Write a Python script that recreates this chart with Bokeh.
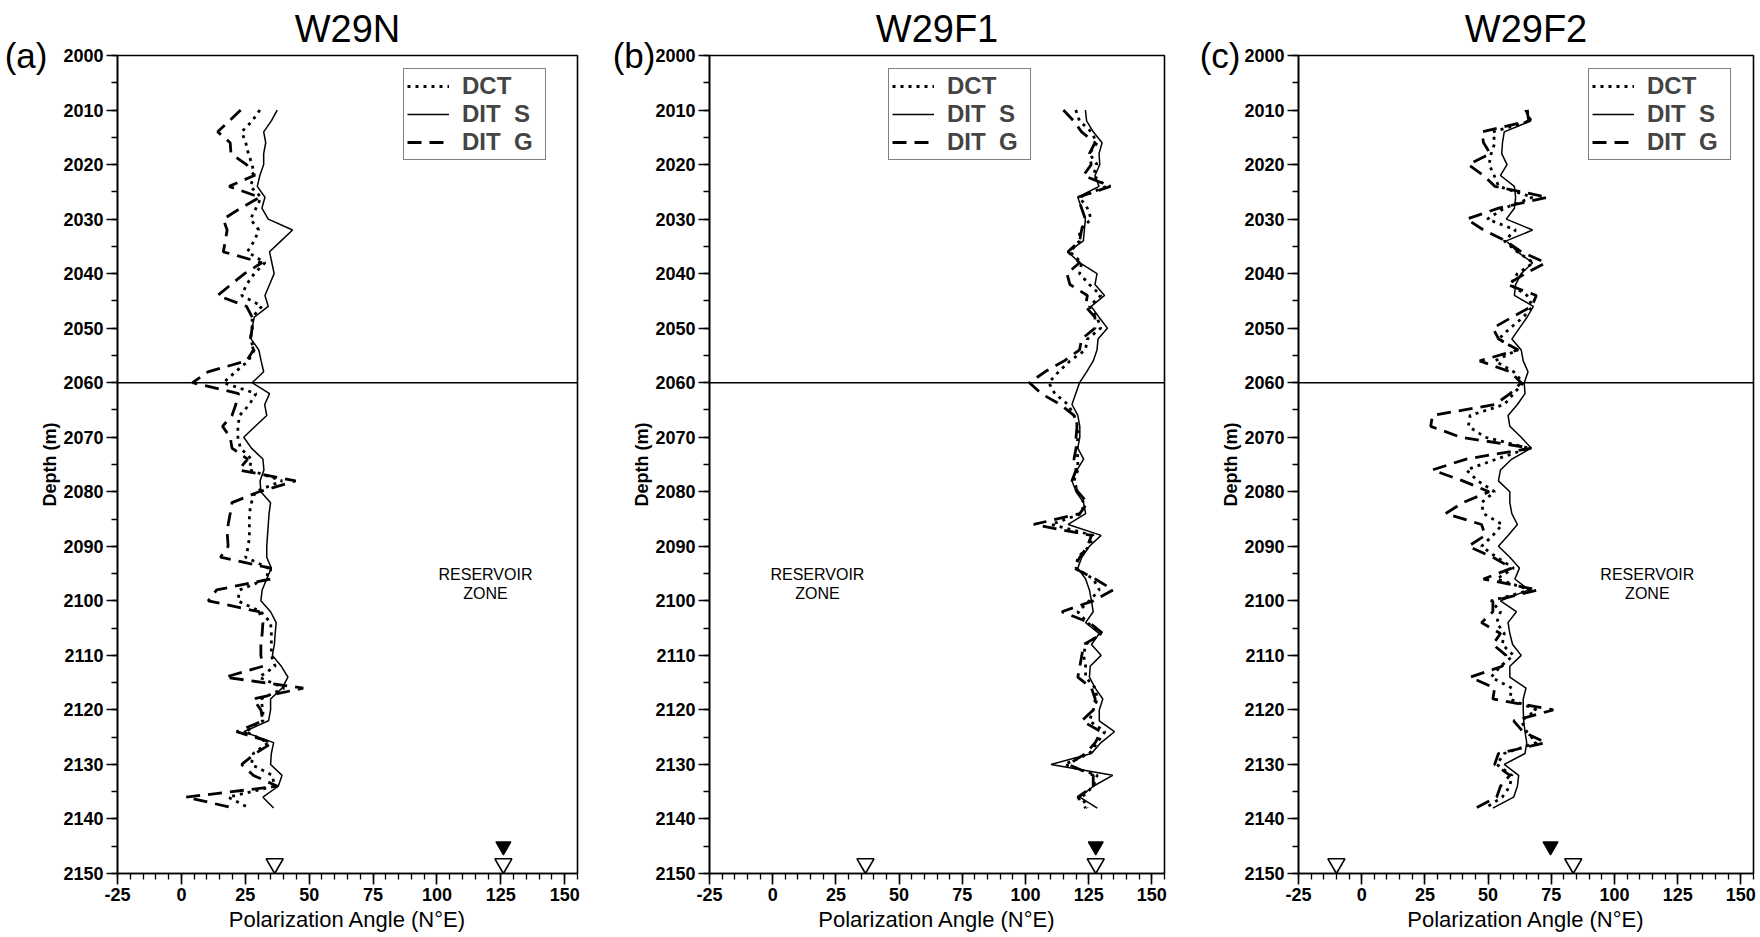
from bokeh.plotting import figure
from bokeh.layouts import row
from bokeh.models import (Range1d, FixedTicker, Span, Legend, LegendItem, LinearAxis,
                          ColumnDataSource)
from bokeh.embed import file_html
from bokeh.resources import INLINE
from bokeh.core.properties import value

# Depth of each polarization estimate (m), one every 2 m
DEPTH = list(range(2010, 2139, 2))

# ---- W29N ----
w29n_dct = [30.7, 27.7, 23.6, 25.2, 26.2, 27.7, 28.5, 27.0, 31.2, 29.2, 27.0, 30.3, 28.5, 25.8,
            32.7, 28.5, 25.5, 23.6, 31.5, 27.7, 27.7, 27.0, 28.5, 26.2, 21.2, 16.4, 29.2,
            26.6, 22.8, 22.1, 22.1, 23.1, 27.4, 26.6, 39.4, 28.9, 27.4, 26.6, 26.6, 26.6,
            26.2, 25.1, 34.1, 33.4, 22.8, 22.1, 31.1, 34.9, 35.2, 35.2, 35.2, 36.7, 30.4,
            40.2, 31.1, 31.9, 31.9, 25.1, 34.1, 28.1, 27.4, 35.6, 36.4, 18.3, 26.6]
w29n_dit_s = [37.5, 35.2, 32.2, 33.0, 32.2, 32.2, 30.7, 29.7, 32.7, 31.5, 34.0, 43.5, 39.0, 34.5,
              35.4, 36.3, 34.5, 32.7, 34.0, 28.5, 27.7, 27.3, 30.3, 31.2, 32.2, 27.7, 34.5,
              32.6, 33.4, 28.9, 24.4, 27.4, 31.9, 32.3, 30.8, 31.1, 34.9, 34.3, 34.0, 33.7,
              33.4, 33.4, 35.2, 33.4, 31.6, 31.1, 34.9, 37.1, 36.7, 36.4, 35.6, 39.1, 41.7,
              39.4, 34.9, 34.9, 34.1, 24.4, 36.1, 35.2, 34.9, 39.4, 37.9, 31.9, 36.1]
w29n_dit_g = [23.2, 18.7, 14.2, 19.1, 19.4, 25.5, 28.5, 18.7, 30.7, 23.2, 16.4, 17.9, 17.2, 16.4,
              31.5, 24.7, 19.4, 14.2, 25.5, 27.7, 27.7, 27.0, 28.2, 25.5, 10.4, 4.4, 22.4,
              21.3, 19.8, 16.1, 19.1, 19.8, 25.9, 22.5, 44.7, 30.4, 19.8, 19.1, 18.3, 18.0,
              18.3, 15.3, 34.9, 34.9, 13.8, 10.5, 30.4, 31.9, 31.6, 31.1, 31.1, 31.9, 17.1,
              47.7, 28.1, 31.1, 31.9, 21.6, 35.6, 28.9, 23.6, 28.1, 37.6, 1.8, 20.6]

# ---- W29F1 ----
w29f1_dct = [119.9, 121.4, 126.0, 128.3, 125.3, 128.3, 126.8, 132.1, 121.4, 124.5, 126.0, 121.4,
             121.4, 117.6, 122.2, 121.4, 125.3, 129.8, 125.3, 128.3, 129.8, 124.5, 123.7, 117.6,
             113.1, 109.2, 111.6, 116.8,
             119.2, 120.7, 120.7, 120.4, 120.7, 120.7, 119.2, 120.7, 123.0, 122.3,
             110.1, 126.8, 125.3, 120.7, 120.0, 126.8, 129.2, 125.3, 120.7, 124.5,
             129.9, 123.8, 123.0, 123.8, 123.8, 127.6, 128.4, 126.8, 125.3, 131.4,
             128.4, 125.3, 115.4, 128.4, 126.8, 122.3, 124.5]
w29f1_dit_s = [123.7, 124.2, 126.8, 130.3, 129.1, 129.4, 127.5, 129.1, 120.7, 122.2, 123.7, 123.3,
               122.9, 116.8, 121.4, 128.3, 127.5, 131.3, 126.0, 129.1, 132.4, 128.7, 128.3,
               126.8, 124.2, 121.4, 119.9, 118.4,
               120.7, 121.5, 121.5, 120.7, 123.0, 120.4, 118.4, 120.0, 123.0, 123.8,
               116.9, 129.9, 125.3, 122.3, 120.7, 123.8, 125.3, 126.1, 126.8, 123.8,
               129.2, 126.1, 129.9, 125.6, 125.3, 127.6, 130.6, 129.2, 129.2, 135.2,
               129.9, 126.1, 110.1, 134.5, 126.8, 121.5, 128.4]
w29f1_dit_g = [115.0, 119.1, 122.2, 127.5, 125.3, 126.0, 122.9, 133.6, 120.7, 122.2, 123.7, 122.2,
               121.4, 116.8, 121.4, 116.4, 117.6, 124.5, 123.7, 127.5, 127.5, 122.2, 121.4,
               115.3, 107.7, 101.6, 106.2, 113.8,
               119.2, 120.4, 120.0, 120.0, 119.2, 120.0, 118.4, 120.7, 124.5, 121.5,
               103.3, 126.1, 124.5, 121.5, 119.2, 127.6, 134.7, 126.8, 114.4, 125.3,
               130.6, 123.0, 122.3, 121.5, 120.7, 126.1, 127.6, 126.8, 122.3, 129.9,
               127.6, 123.8, 116.9, 126.8, 126.8, 120.7, 123.8]

# ---- W29F2 ----
w29f2_dct = [65.4, 66.9, 51.9, 52.7, 51.2, 50.4, 52.4, 54.2, 67.6, 56.4, 49.7, 60.9, 56.4, 61.6,
             67.9, 61.6, 58.7, 65.4, 67.6, 63.9, 58.7, 54.2, 61.6, 52.7, 60.1, 63.9, 60.1, 56.4,
             42.9, 42.2, 48.9, 66.1, 53.4, 41.4, 45.9, 52.6, 47.4, 48.2,
             55.6, 51.9, 47.4, 53.4, 60.1, 53.4, 66.8, 51.2, 54.9, 53.4,
             56.4, 55.6, 60.1, 54.9, 51.2, 59.4, 58.6, 69.1, 63.1, 65.3,
             69.1, 56.4, 53.4, 59.4, 58.6, 55.6, 48.9]
w29f2_dit_s = [64.6, 66.9, 56.4, 55.7, 55.4, 57.5, 54.9, 60.4, 60.9, 60.4, 57.2, 67.6, 57.2, 61.6,
               67.6, 63.1, 60.9, 60.4, 67.9, 65.4, 62.4, 59.4, 63.1, 63.9, 65.8, 64.3, 64.6, 61.6,
               57.9, 58.6, 63.1, 67.1, 59.4, 54.9, 54.1, 58.6, 58.6, 59.4,
               61.6, 57.9, 54.1, 58.6, 62.4, 60.6, 66.1, 54.9, 61.2, 57.9,
               58.6, 59.7, 63.1, 58.6, 58.6, 65.0, 63.9, 63.9, 64.1, 64.6,
               65.3, 64.6, 56.4, 62.1, 61.6, 60.1, 51.9]
w29f2_dit_g = [65.4, 66.1, 47.5, 48.2, 50.9, 42.2, 48.2, 52.7, 73.6, 54.2, 41.5, 48.2, 56.9, 63.1,
               72.8, 64.6, 57.6, 69.1, 67.3, 59.4, 51.9, 54.2, 61.9, 46.7, 58.7, 63.1, 58.7, 52.7,
               28.0, 27.3, 39.2, 67.1, 41.4, 28.0, 40.0, 50.4, 40.0, 33.2,
               47.4, 48.9, 42.2, 51.9, 59.4, 48.2, 69.8, 51.9, 51.9, 47.4,
               54.9, 51.9, 57.1, 55.6, 42.9, 52.6, 51.9, 75.8, 60.1, 63.8,
               72.8, 54.1, 52.6, 58.6, 54.9, 53.4, 45.2]

# Reference azimuths marked on the bottom axis (open and filled arrowheads)
w29n_open_marks = [36.5, 126.0]
w29n_filled_marks = [126.0]
w29f1_open_marks = [36.7, 127.8]
w29f1_filled_marks = [127.8]
w29f2_open_marks = [-10.0, 83.7]
w29f2_filled_marks = [74.7]

X_TICKS = [-25, 0, 25, 50, 75, 100, 125, 150]
Y_TICKS = list(range(2000, 2151, 10))
TOP_DEPTH, BOTTOM_DEPTH = 2000, 2150
RESERVOIR_TOP = 2060

HEIGHT = 937
BORDER_TOP = 54
BORDER_BOTTOM = 64
FRAME_H = HEIGHT - BORDER_TOP - BORDER_BOTTOM
FONT = "Liberation Sans"


def make_panel(tag, well, dct, dit_s, dit_g, left, frame_w, right, legend_left,
               tag_standoff, zone_x, open_marks, filled_marks):
    p = figure(width=left + frame_w + right, height=HEIGHT,
               x_range=Range1d(-25, 155), y_range=Range1d(BOTTOM_DEPTH, TOP_DEPTH),
               min_border_left=left, min_border_right=right,
               min_border_top=BORDER_TOP, min_border_bottom=BORDER_BOTTOM,
               output_backend="svg", toolbar_location=None,
               x_axis_label="Polarization Angle (N°E)", y_axis_label="Depth (m)")
    p.grid.visible = False
    p.outline_line_color = "black"
    p.outline_line_width = 1.6
    p.background_fill_color = "white"
    p.border_fill_color = "white"

    # well name above the frame
    p.title.text = well
    p.title.align = "center"
    p.title.text_font = FONT
    p.title.text_font_style = "normal"
    p.title.text_font_size = "38px"
    p.title.text_color = "black"
    p.title.standoff = 11

    p.xaxis.ticker = FixedTicker(ticks=X_TICKS, minor_ticks=list(range(-25, 156, 5)))
    p.yaxis.ticker = FixedTicker(ticks=Y_TICKS, minor_ticks=list(range(2000, 2151, 5)))
    p.xaxis.major_label_overrides = {-25: "-25"}

    for ax in (p.xaxis[0], p.yaxis[0]):
        ax.axis_line_width = 1.6
        ax.axis_line_color = "black"
        ax.major_tick_line_width = 1.6
        ax.minor_tick_line_width = 1.3
        ax.major_tick_line_color = "black"
        ax.minor_tick_line_color = "black"
        ax.major_tick_in = 0
        ax.major_tick_out = 11
        ax.minor_tick_in = 0
        ax.minor_tick_out = 6
        ax.major_label_text_font = FONT
        ax.major_label_text_font_style = "bold"
        ax.major_label_text_font_size = "18px"
        ax.major_label_text_color = "black"
        ax.axis_label_text_font = FONT
        ax.axis_label_text_color = "black"

    p.xaxis.major_label_standoff = 3
    p.xaxis.axis_label_standoff = 3
    p.xaxis.axis_label_text_font_style = "normal"
    p.xaxis.axis_label_text_font_size = "22px"
    p.yaxis.major_label_standoff = 3
    p.yaxis.axis_label_standoff = 0
    p.yaxis.axis_label_text_font_style = "bold"
    p.yaxis.axis_label_text_font_size = "18px"

    # panel letter, set beside the top of the depth axis
    tag_axis = LinearAxis(ticker=FixedTicker(ticks=[TOP_DEPTH], minor_ticks=[]),
                          major_label_overrides={TOP_DEPTH: tag},
                          axis_line_color=None, major_tick_line_color=None,
                          minor_tick_line_color=None, major_tick_out=0, major_tick_in=0,
                          minor_tick_out=0, minor_tick_in=0,
                          major_label_standoff=tag_standoff,
                          major_label_text_font=FONT, major_label_text_font_size="35px",
                          major_label_text_font_style="normal",
                          major_label_text_color="black")
    p.add_layout(tag_axis, "left")

    # top of the reservoir
    p.add_layout(Span(location=RESERVOIR_TOP, dimension="width",
                      line_color="black", line_width=1.6))

    src = ColumnDataSource(dict(depth=DEPTH, dct=dct, dit_s=dit_s, dit_g=dit_g))
    r_g = p.line("dit_g", "depth", source=src, line_color="black",
                 line_width=2.8, line_dash="14 8")
    r_dct = p.line("dct", "depth", source=src, line_color="black",
                   line_width=2.8, line_dash="3 5")
    r_s = p.line("dit_s", "depth", source=src, line_color="black", line_width=1.5)

    p.text(x=[zone_x, zone_x], y=[2095.2, 2098.6], text=["RESERVOIR", "ZONE"],
           text_font=value(FONT), text_font_size="16px", text_align="center",
           text_baseline="middle", text_color="black")

    # arrowheads resting on the depth axis
    p.scatter(x=open_marks, y=[BOTTOM_DEPTH - 1.8] * len(open_marks),
              marker="inverted_triangle", size=17, fill_color="white",
              line_color="black", line_width=1.6)
    p.scatter(x=filled_marks, y=[BOTTOM_DEPTH - 5.0] * len(filled_marks),
              marker="inverted_triangle", size=15, fill_color="black",
              line_color="black", line_width=1.2)

    legend = Legend(items=[LegendItem(label="DCT", renderers=[r_dct]),
                           LegendItem(label="DIT\u00a0\u00a0S", renderers=[r_s]),
                           LegendItem(label="DIT\u00a0\u00a0G", renderers=[r_g])],
                    location=(legend_left, FRAME_H - 106))
    legend.border_line_color = "black"
    legend.border_line_width = 1.6
    legend.background_fill_color = "white"
    legend.background_fill_alpha = 1.0
    legend.label_text_font = FONT
    legend.label_text_font_style = "bold"
    legend.label_text_font_size = "24px"
    legend.glyph_width = 42
    legend.glyph_height = 24
    legend.label_height = 24
    legend.label_width = 80
    legend.label_standoff = 13
    legend.spacing = 0
    legend.padding = 3
    legend.margin = 0
    p.add_layout(legend)
    return p


pa = make_panel("(a)", "W29N", w29n_dct, w29n_dit_s, w29n_dit_g,
                117, 460, 20, 286, -10, 119.0, w29n_open_marks, w29n_filled_marks)
pb = make_panel("(b)", "W29F1", w29f1_dct, w29f1_dit_s, w29f1_dit_g,
                112, 455, 20, 179, -26, 17.7, w29f1_open_marks, w29f1_filled_marks)
pc = make_panel("(c)", "W29F2", w29f2_dct, w29f2_dit_s, w29f2_dit_g,
                114, 455, 7, 290, -22, 113.0, w29f2_open_marks, w29f2_filled_marks)

layout = row(pa, pb, pc)
open("out.html", "w").write(file_html(layout, INLINE))
